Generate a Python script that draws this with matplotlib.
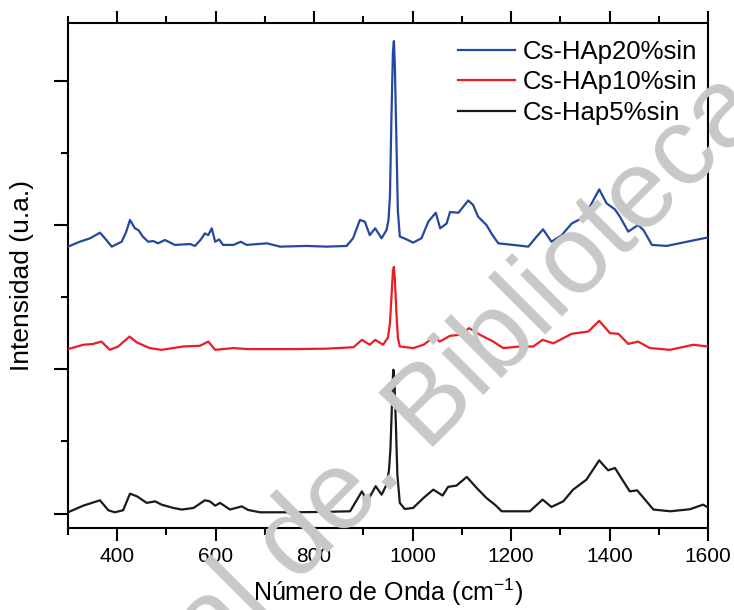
import matplotlib
matplotlib.use("Agg")
import matplotlib.pyplot as plt
import numpy as np

plt.rcParams['font.family'] = ['Liberation Sans', 'DejaVu Sans']
plt.rcParams['mathtext.fontset'] = 'custom'
plt.rcParams['mathtext.rm'] = 'Liberation Sans'

# Cs-HAp20%sin (blue, offset trace)
x_20 = [300, 324, 345, 365, 375, 389, 409, 418, 426, 436, 443, 452, 463, 473, 483, 497,
        517, 548, 558, 570, 578, 585, 592, 599, 607, 615, 636, 651, 663, 704, 731, 785,
        825, 866, 879, 893, 903, 913, 924, 937, 947, 951, 954, 957, 960, 962, 964, 967,
        970, 974, 988, 1001, 1018, 1032, 1047, 1056, 1069, 1076, 1093, 1113, 1123, 1133,
        1150, 1160, 1174, 1204, 1235, 1252, 1265, 1282, 1303, 1323, 1343, 1360, 1379,
        1394, 1411, 1421, 1438, 1458, 1469, 1486, 1516, 1557, 1600]
y_20 = [1.85, 1.884, 1.908, 1.947, 1.908, 1.85, 1.884, 1.95, 2.035, 1.977, 1.965, 1.92,
        1.884, 1.889, 1.873, 1.896, 1.862, 1.868, 1.855, 1.90, 1.942, 1.93, 1.977, 1.884,
        1.90, 1.862, 1.862, 1.884, 1.862, 1.873, 1.85, 1.855, 1.85, 1.855, 1.908, 2.035,
        2.023, 1.93, 1.977, 1.908, 1.965, 2.035, 2.2, 2.75, 3.2, 3.275, 3.1, 2.6, 2.1,
        1.92, 1.90, 1.878, 1.908, 2.024, 2.085, 1.977, 2.01, 2.09, 2.085, 2.17, 2.138,
        2.058, 2.0, 1.942, 1.873, 1.862, 1.85, 1.92, 1.97, 1.884, 1.93, 2.01, 2.046,
        2.127, 2.247, 2.15, 2.108, 2.058, 1.954, 2.0, 1.965, 1.862, 1.855, 1.884, 1.914]

# Cs-HAp10%sin (red)
x_10 = [300, 331, 350, 368, 385, 402, 425, 440, 466, 490, 534, 568, 585, 599, 636, 666,
        690, 758, 825, 880, 897, 913, 924, 940, 950, 954, 957, 960, 962, 964, 967, 970,
        974, 1001, 1022, 1045, 1055, 1076, 1096, 1115, 1137, 1164, 1184, 1218, 1245,
        1264, 1286, 1323, 1357, 1379, 1401, 1418, 1438, 1458, 1482, 1523, 1570, 1600]
y_10 = [1.14, 1.17, 1.175, 1.192, 1.135, 1.158, 1.227, 1.186, 1.147, 1.135, 1.158, 1.163,
        1.192, 1.135, 1.147, 1.14, 1.14, 1.14, 1.143, 1.153, 1.204, 1.17, 1.204, 1.17,
        1.22, 1.32, 1.50, 1.68, 1.71, 1.62, 1.40, 1.22, 1.158, 1.147, 1.17, 1.227, 1.192,
        1.232, 1.239, 1.285, 1.239, 1.192, 1.147, 1.158, 1.158, 1.204, 1.18, 1.246,
        1.262, 1.336, 1.25, 1.246, 1.176, 1.192, 1.147, 1.135, 1.17, 1.158]

# Cs-Hap5%sin (black)
x_5 = [300, 331, 365, 382, 395, 412, 426, 440, 460, 477, 490, 514, 531, 555, 578, 588,
       599, 609, 629, 653, 666, 690, 758, 825, 873, 897, 908, 925, 937, 947, 952, 955,
       958, 960, 961, 963, 966, 969, 974, 984, 1001, 1022, 1042, 1061, 1072, 1089, 1110,
       1130, 1150, 1167, 1181, 1211, 1238, 1264, 1282, 1306, 1326, 1353, 1379, 1397,
       1411, 1428, 1441, 1456, 1472, 1489, 1523, 1563, 1590, 1600]
y_5 = [0.009, 0.055, 0.092, 0.023, 0.009, 0.023, 0.138, 0.12, 0.074, 0.085, 0.062, 0.039,
       0.028, 0.039, 0.092, 0.085, 0.055, 0.074, 0.028, 0.05, 0.025, 0.009, 0.009, 0.012,
       0.016, 0.154, 0.085, 0.19, 0.131, 0.20, 0.30, 0.45, 0.75, 0.95, 0.997, 0.93, 0.62,
       0.27, 0.074, 0.032, 0.039, 0.108, 0.166, 0.125, 0.185, 0.194, 0.254, 0.178, 0.108,
       0.062, 0.016, 0.016, 0.016, 0.097, 0.046, 0.085, 0.166, 0.235, 0.369, 0.30, 0.316,
       0.224, 0.154, 0.161, 0.097, 0.028, 0.016, 0.03, 0.062, 0.042]

fig = plt.figure(figsize=(7.34, 6.10), dpi=100)
ax = fig.add_axes([0.0926, 0.1344, 0.872, 0.8279])

ax.plot(x_20, y_20, color='#2447a0', lw=1.6, label='Cs-HAp20%sin', zorder=3)
ax.plot(x_10, y_10, color='#ec1c24', lw=1.6, label='Cs-HAp10%sin', zorder=3)
ax.plot(x_5, y_5, color='#1a1a1a', lw=1.6, label='Cs-Hap5%sin', zorder=3)

ax.set_xlim(300, 1600)
ax.set_ylim(-0.1, 3.4)
ax.set_xticks(np.arange(400, 1601, 200))
ax.set_xticks(np.arange(300, 1601, 100), minor=True)
ax.set_yticks([0, 1, 2, 3])
ax.set_yticks([0.5, 1.5, 2.5], minor=True)
ax.set_yticklabels([])
ax.tick_params(axis='x', which='both', direction='out', top=True, labelsize=15, width=1.5, pad=5)
ax.tick_params(axis='x', which='major', length=9)
ax.tick_params(axis='x', which='minor', length=5)
ax.tick_params(axis='y', which='both', direction='out', right=False, width=1.5)
ax.tick_params(axis='y', which='major', length=10)
ax.tick_params(axis='y', which='minor', length=5)
for s in ax.spines.values():
    s.set_linewidth(1.5)

ax.set_xlabel(r'Número de Onda (cm$^{\mathregular{-1}}$)', fontsize=18, labelpad=7.5)
ax.set_ylabel('Intensidad (u.a.)', fontsize=19, labelpad=11)

ax.legend(loc='upper right', bbox_to_anchor=(1.009, 1.0), frameon=False, fontsize=18.5,
          handlelength=2.2, handletextpad=0.3, labelspacing=0.25, borderaxespad=0.25)

# watermark
px, py = 427, 610 - 453
fs = 80
fig.text(px / 734, py / 610, 'Bibliotecas UAQ', ha='left', fontsize=fs, color='#c8c8c8',
         rotation=45, rotation_mode='anchor', va='baseline', zorder=0)
d = 0.278 * fs * 100 / 72
fig.text((px - d * 0.7071) / 734, (py - d * 0.7071) / 610, 'Dirección General de.',
         ha='right', fontsize=fs, color='#c8c8c8', rotation=45, rotation_mode='anchor',
         va='baseline', zorder=0)

fig.savefig('out.png', dpi=100)
